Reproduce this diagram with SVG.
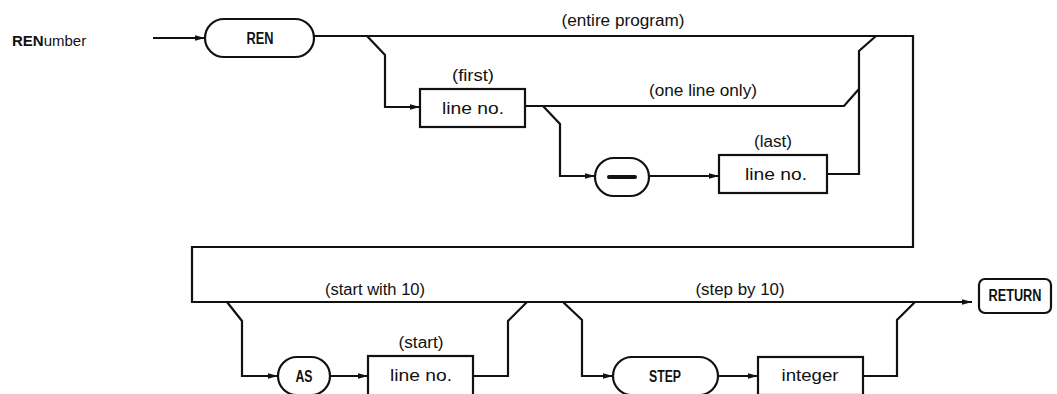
<svg xmlns="http://www.w3.org/2000/svg" width="1057" height="394" viewBox="0 0 1057 394">
<style>
.ln{fill:none;stroke:#111;stroke-width:2.2;stroke-linejoin:miter}
.bx{fill:#fff;stroke:#111;stroke-width:2.2}
.t{font-family:"Liberation Sans",Arial,sans-serif;font-size:16px;fill:#111;text-anchor:middle}
.b{font-weight:bold}
.lab{font-family:"Liberation Sans",Arial,sans-serif;font-size:15px;fill:#111}
</style>
<defs>
<marker id="ah" markerUnits="userSpaceOnUse" markerWidth="10" markerHeight="7" refX="10" refY="3.5" orient="auto">
<path d="M0,0.8 L10,3.5 L0,6.2 z" fill="#111"/>
</marker>
</defs>
<rect width="1057" height="394" fill="#fff"/>
<g id="title">
<text class="lab" x="12" y="46"><tspan class="b">REN</tspan>umber</text>
</g>
<g id="connectors">
<path class="ln" d="M153,38 H205" marker-end="url(#ah)"/>
<path class="ln" d="M314,36 H913 V247 H192 V302 H972" marker-end="url(#ah)"/>
<path class="ln" d="M367,36 L385,55 V107 H420" marker-end="url(#ah)"/>
<path class="ln" d="M525,106 H844 L859,89"/>
<path class="ln" d="M543,106 L560,124 V176 H595" marker-end="url(#ah)"/>
<path class="ln" d="M649,176 H719" marker-end="url(#ah)"/>
<path class="ln" d="M827,174 H859 V51 L876,36"/>
<path class="ln" d="M227,302 L242,321 V376 H278" marker-end="url(#ah)"/>
<path class="ln" d="M330,376 H368" marker-end="url(#ah)"/>
<path class="ln" d="M473,376 H508 V321 L527,302"/>
<path class="ln" d="M563,302 L582,320 V376 H613" marker-end="url(#ah)"/>
<path class="ln" d="M718,376 H758" marker-end="url(#ah)"/>
<path class="ln" d="M863,376 H897 V320 L915,302"/>
</g>
<g id="labels">
<text class="t" x="623" y="26" textLength="123" lengthAdjust="spacingAndGlyphs">(entire program)</text>
<text class="t" x="703" y="96" textLength="108" lengthAdjust="spacingAndGlyphs">(one line only)</text>
<text class="t" x="375" y="295" textLength="100" lengthAdjust="spacingAndGlyphs">(start with 10)</text>
<text class="t" x="740" y="295" textLength="89" lengthAdjust="spacingAndGlyphs">(step by 10)</text>
</g>
<g id="node-ren">
<rect class="bx" x="205" y="19" width="109" height="38" rx="19"/>
<text class="t b" x="260" y="44" textLength="27" lengthAdjust="spacingAndGlyphs">REN</text>
</g>
<g id="node-first">
<rect class="bx" x="420" y="89" width="105" height="38"/>
<text class="t" x="473" y="81" textLength="42" lengthAdjust="spacingAndGlyphs">(first)</text>
<text class="t" x="473" y="114" textLength="62" lengthAdjust="spacingAndGlyphs">line no.</text>
</g>
<g id="node-dash">
<rect class="bx" x="595" y="158" width="54" height="38" rx="19"/>
<line x1="609" y1="177" x2="635" y2="177" stroke="#111" stroke-width="4" stroke-linecap="round"/>
</g>
<g id="node-last">
<rect class="bx" x="719" y="155" width="108" height="38"/>
<text class="t" x="773" y="147" textLength="38" lengthAdjust="spacingAndGlyphs">(last)</text>
<text class="t" x="776" y="180" textLength="62" lengthAdjust="spacingAndGlyphs">line no.</text>
</g>
<g id="node-as">
<rect class="bx" x="278" y="357" width="52" height="38" rx="19"/>
<text class="t b" x="304" y="382" textLength="17" lengthAdjust="spacingAndGlyphs">AS</text>
</g>
<g id="node-start">
<rect class="bx" x="368" y="356" width="105" height="40"/>
<text class="t" x="421" y="348" textLength="45" lengthAdjust="spacingAndGlyphs">(start)</text>
<text class="t" x="421" y="381" textLength="62" lengthAdjust="spacingAndGlyphs">line no.</text>
</g>
<g id="node-step">
<rect class="bx" x="613" y="357" width="105" height="38" rx="19"/>
<text class="t b" x="665" y="382" textLength="32" lengthAdjust="spacingAndGlyphs">STEP</text>
</g>
<g id="node-integer">
<rect class="bx" x="758" y="357" width="105" height="38"/>
<text class="t" x="810" y="381" textLength="57" lengthAdjust="spacingAndGlyphs">integer</text>
</g>
<g id="node-return">
<rect class="bx" x="979" y="279" width="72" height="34" rx="6"/>
<text class="t b" x="1015" y="301" textLength="53" lengthAdjust="spacingAndGlyphs">RETURN</text>
</g>
</svg>
